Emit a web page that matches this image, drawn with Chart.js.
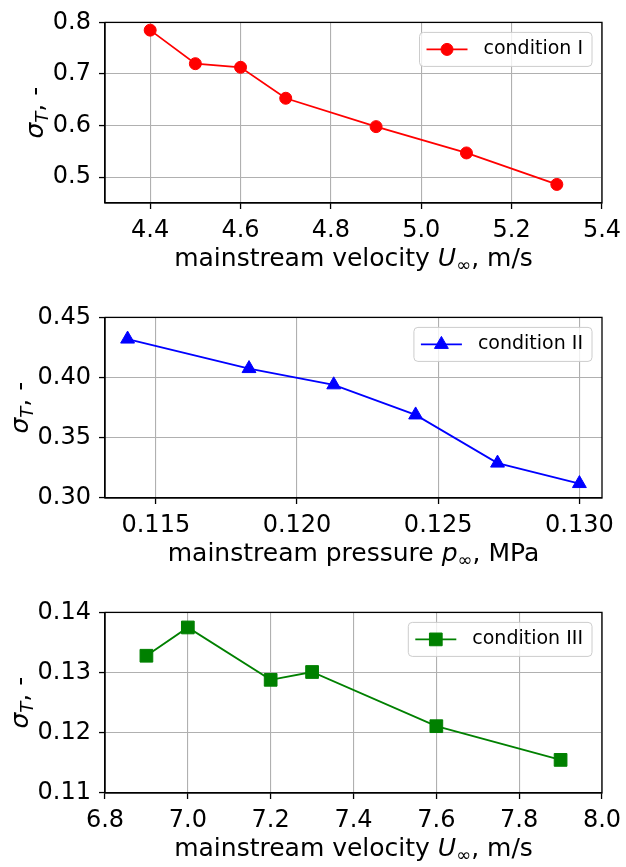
<!DOCTYPE html>
<html>
<head>
<meta charset="utf-8">
<script src="https://cdn.jsdelivr.net/npm/chart.js@4.4.1/dist/chart.umd.min.js"></script>
<style>
  html, body { margin: 0; padding: 0; background: #fff; overflow: hidden; }
  #wrap { position: relative; width: 626px; height: 867px; }
  canvas { position: absolute; left: 0; }
</style>
</head>
<body>
<div id="wrap">
  <canvas id="c1" width="626" height="295" style="top:0px"></canvas>
  <canvas id="c2" width="626" height="295" style="top:295px"></canvas>
  <canvas id="c3" width="626" height="277" style="top:590px"></canvas>
</div>
<script>
'use strict';

// condition I : sigma_T vs mainstream velocity
const velocity1 = [4.4, 4.5, 4.6, 4.7, 4.9, 5.1, 5.3];
const sigma1 = [0.785, 0.720, 0.713, 0.653, 0.598, 0.547, 0.486];
const xTicks1 = [4.4, 4.6, 4.8, 5.0, 5.2, 5.4];
const yTicks1 = [0.5, 0.6, 0.7, 0.8];

// condition II : sigma_T vs mainstream pressure
const pressure2 = [0.1140, 0.1183, 0.1213, 0.1242, 0.1271, 0.1300];
const sigma2 = [0.432, 0.4075, 0.394, 0.369, 0.329, 0.312];
const xTicks2 = [0.115, 0.120, 0.125, 0.130];
const yTicks2 = [0.30, 0.35, 0.40, 0.45];

// condition III : sigma_T vs mainstream velocity
const velocity3 = [6.9, 7.0, 7.2, 7.3, 7.6, 7.9];
const sigma3 = [0.1328, 0.1375, 0.1288, 0.1301, 0.1211, 0.1155];
const xTicks3 = [6.8, 7.0, 7.2, 7.4, 7.6, 7.8, 8.0];
const yTicks3 = [0.11, 0.12, 0.13, 0.14];

const legendLabels = ['condition I', 'condition II', 'condition III'];

// axis titles, split into pieces so sub/italic parts can be drawn
const yTitle = [{t: 'σ', it: true}, {t: 'T', it: true, sub: true}, {t: ', -'}];
const xTitleVel = [{t: 'mainstream velocity '}, {t: 'U', it: true}, {t: '∞', sub: true}, {t: ', m/s'}];
const xTitlePres = [{t: 'mainstream pressure '}, {t: 'p', it: true}, {t: '∞', sub: true}, {t: ', MPa'}];

const FONT = '"DejaVu Sans", sans-serif';
const TICK_SIZE = 24;
const TITLE_SIZE = 25;

function pieceFont(p, size) {
  return (p.it ? 'italic ' : '') + (p.sub ? Math.round(size * 0.7) : size) + 'px ' + FONT;
}

function drawRich(ctx, parts, size, x, y) {
  let w = 0;
  parts.forEach(p => { ctx.font = pieceFont(p, size); w += ctx.measureText(p.t).width; });
  let cx = x - w / 2;
  ctx.textAlign = 'left';
  ctx.textBaseline = 'alphabetic';
  parts.forEach(p => {
    ctx.font = pieceFont(p, size);
    ctx.fillText(p.t, cx, y + (p.sub ? size * 0.2 : 0));
    cx += ctx.measureText(p.t).width;
  });
}

// box round the axes, rich axis titles and a matplotlib-like legend
const decor = {
  id: 'decor',
  afterDraw(chart, args, opts) {
    const ctx = chart.ctx;
    const a = chart.chartArea;
    ctx.save();
    ctx.strokeStyle = '#000';
    ctx.lineWidth = 1.3;
    ctx.strokeRect(a.left, a.top, a.right - a.left, a.bottom - a.top);

    ctx.fillStyle = '#000';
    drawRich(ctx, opts.xTitle, TITLE_SIZE, (a.left + a.right) / 2, a.bottom + 63);

    // y title placed left of the widest tick label
    ctx.font = TICK_SIZE + 'px ' + FONT;
    const ys = chart.scales.y;
    let maxW = 0;
    ys.ticks.forEach(t => { maxW = Math.max(maxW, ctx.measureText(t.label).width); });
    const base = a.left - 6 - 8 - maxW - 9.5;
    ctx.translate(base, (a.top + a.bottom) / 2);
    ctx.rotate(-Math.PI / 2);
    drawRich(ctx, yTitle, TITLE_SIZE, 0, 0);
    ctx.setTransform(1, 0, 0, 1, 0, 0);

    // legend
    const ds = chart.data.datasets[0];
    ctx.font = '19px ' + FONT;
    const tw = ctx.measureText(ds.label).width;
    const bw = 7 + 41 + 16 + tw + 9, bh = 34;
    const bx = a.right - 10 - bw, by = a.top + 10;
    ctx.beginPath();
    ctx.roundRect(bx, by, bw, bh, 4);
    ctx.fillStyle = 'rgba(255,255,255,0.8)';
    ctx.fill();
    ctx.strokeStyle = '#cccccc';
    ctx.lineWidth = 1;
    ctx.stroke();
    const ly = by + bh / 2;
    ctx.strokeStyle = ds.borderColor;
    ctx.lineWidth = ds.borderWidth;
    ctx.beginPath();
    ctx.moveTo(bx + 7, ly);
    ctx.lineTo(bx + 48, ly);
    ctx.stroke();
    ctx.fillStyle = ds.pointBackgroundColor;
    ctx.strokeStyle = ds.pointBorderColor;
    ctx.lineWidth = 1;
    Chart.helpers.drawPoint(ctx, {pointStyle: ds.pointStyle, radius: ds.pointRadius, borderWidth: 1, rotation: 0}, bx + 27.5, ly);
    ctx.fillStyle = '#000';
    ctx.textAlign = 'left';
    ctx.textBaseline = 'middle';
    ctx.fillText(ds.label, bx + 64, ly);
    ctx.restore();
  }
};

function makeChart(id, xs, ys, label, color, style, radius, xr, yr, xt, yt, xd, yd, xTitle) {
  const canvas = document.getElementById(id);
  const h = canvas.height;
  return new Chart(canvas, {
    type: 'line',
    data: {
      datasets: [{
        label: label,
        data: xs.map((x, i) => ({x: x, y: ys[i]})),
        borderColor: color,
        backgroundColor: color,
        pointBackgroundColor: color,
        pointBorderColor: color,
        borderWidth: 1.8,
        pointStyle: style,
        pointRadius: radius,
        pointBorderWidth: 1,
        tension: 0,
        clip: false
      }]
    },
    options: {
      responsive: false,
      animation: false,
      devicePixelRatio: 1,
      layout: {padding: {top: 19, right: 24, left: 0, bottom: 0}, autoPadding: false},
      plugins: {legend: {display: false}, tooltip: {enabled: false}, decor: {xTitle: xTitle}},
      scales: {
        x: {
          type: 'linear',
          min: xr[0], max: xr[1],
          afterBuildTicks: s => { s.ticks = xt.map(v => ({value: v})); },
          afterFit: s => { s.height = h - 19 - 184; s.paddingLeft = 0; s.paddingRight = 0; },
          grid: {color: '#b0b0b0', lineWidth: 1.1, tickLength: 6, tickColor: '#000', tickWidth: 1.3},
          border: {color: '#000', width: 1.3},
          ticks: {color: '#000', font: {family: FONT, size: TICK_SIZE}, padding: 7, maxRotation: 0,
                  autoSkip: false, callback: v => v.toFixed(xd)}
        },
        y: {
          type: 'linear',
          min: yr[0], max: yr[1],
          afterBuildTicks: s => { s.ticks = yt.map(v => ({value: v})); },
          afterFit: s => { s.width = 105; },
          grid: {color: '#b0b0b0', lineWidth: 1.1, tickLength: 6, tickColor: '#000', tickWidth: 1.3},
          border: {color: '#000', width: 1.3},
          ticks: {color: '#000', font: {family: FONT, size: TICK_SIZE}, padding: 8,
                  autoSkip: false, callback: v => v.toFixed(yd)}
        }
      }
    },
    plugins: [decor]
  });
}

makeChart('c1', velocity1, sigma1, legendLabels[0], '#ff0000', 'circle', 6,
  [4.3, 5.4], [0.45, 0.8], xTicks1, yTicks1, 1, 1, xTitleVel);
makeChart('c2', pressure2, sigma2, legendLabels[1], '#0000ff', 'triangle', 8,
  [0.1132, 0.1308], [0.30, 0.45], xTicks2, yTicks2, 3, 2, xTitlePres);
makeChart('c3', velocity3, sigma3, legendLabels[2], '#008000', 'rect', 9,
  [6.8, 8.0], [0.11, 0.14], xTicks3, yTicks3, 1, 2, xTitleVel);
</script>
</body>
</html>
